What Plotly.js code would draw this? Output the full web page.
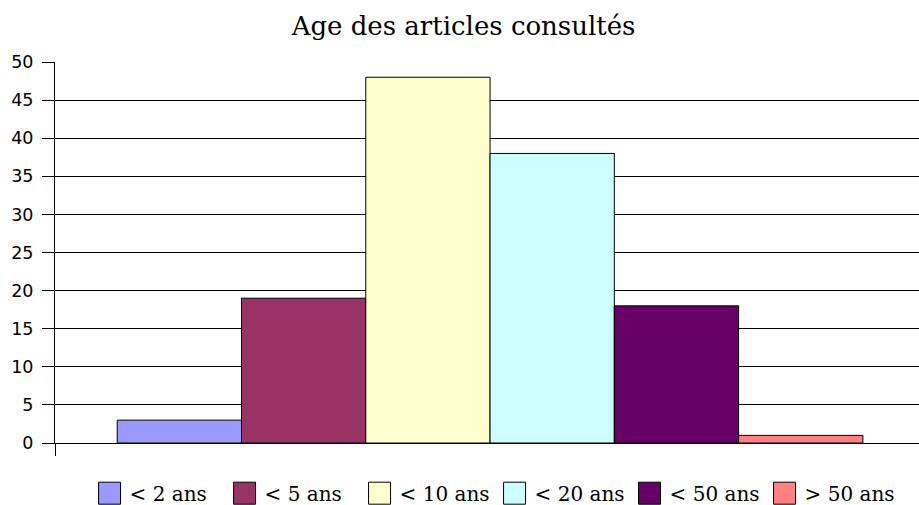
<!DOCTYPE html>
<html>
<head>
<meta charset="utf-8">
<script src="https://cdn.plot.ly/plotly-3.0.1.min.js"></script>
<style>html,body{margin:0;padding:0;background:#fff;}#chart{width:919px;height:505px;}</style>
</head>
<body>
<div id="chart"></div>
<script>
const seriesNames = ['< 2 ans', '< 5 ans', '< 10 ans', '< 20 ans', '< 50 ans', '> 50 ans'];
const seriesValues = [3, 19, 48, 38, 18, 1];
const seriesColors = ['#9999FF', '#993366', '#FFFFCC', '#CCFFFF', '#660066', '#FF8080'];
const groupX = [0];
const yTicks = [0, 5, 10, 15, 20, 25, 30, 35, 40, 45, 50];

const traces = seriesNames.map((name, i) => ({
  type: 'bar',
  name: name,
  x: groupX,
  y: [seriesValues[i]],
  marker: {color: seriesColors[i], line: {color: '#000000', width: 1}},
  hoverinfo: 'skip'
}));

const layout = {
  width: 919, height: 505,
  margin: {l: 55, r: 0, t: 62, b: 62},
  paper_bgcolor: '#ffffff', plot_bgcolor: '#ffffff',
  barmode: 'group', bargap: 0.143, bargroupgap: 0,
  title: {text: 'Age des articles consultés', font: {family: 'DejaVu Serif', size: 26, color: '#000'},
          x: 0.5044, xanchor: 'center', xref: 'container', y: 0.948, yanchor: 'middle', yref: 'container'},
  xaxis: {type: 'linear', range: [-0.5, 0.493], showgrid: false, zeroline: false,
          showline: true, linecolor: '#000', linewidth: 1,
          tickmode: 'array', tickvals: [-0.5], ticktext: [''], ticks: 'outside', ticklen: 12, tickcolor: '#000'},
  yaxis: {range: [0, 50], tickmode: 'array', tickvals: yTicks, ticktext: yTicks.map(String),
          showgrid: true, gridcolor: '#000', gridwidth: 1, zeroline: false,
          showline: true, linecolor: '#000', linewidth: 1,
          ticks: 'outside', ticklen: 12, tickcolor: '#000', ticklabelstandoff: 5,
          tickfont: {family: 'DejaVu Sans', size: 17.5, color: '#000'}},
  showlegend: true,
  legend: {orientation: 'h', x: 0.04, xanchor: 'left', y: 0.062, yanchor: 'top', yref: 'container',
           font: {family: 'DejaVu Serif', size: 20, color: '#000'},
           entrywidth: 90, entrywidthmode: 'pixels', traceorder: 'normal',
           bgcolor: 'rgba(0,0,0,0)'}
};

Plotly.newPlot('chart', traces, layout, {staticPlot: true, displayModeBar: false}).then(() => {
  document.querySelectorAll('.legend .legendpoints path').forEach(p => {
    p.setAttribute('d', 'M11,11H-11V-11H11Z');
    p.style.strokeWidth = '1px';
  });
});
</script>
</body>
</html>
